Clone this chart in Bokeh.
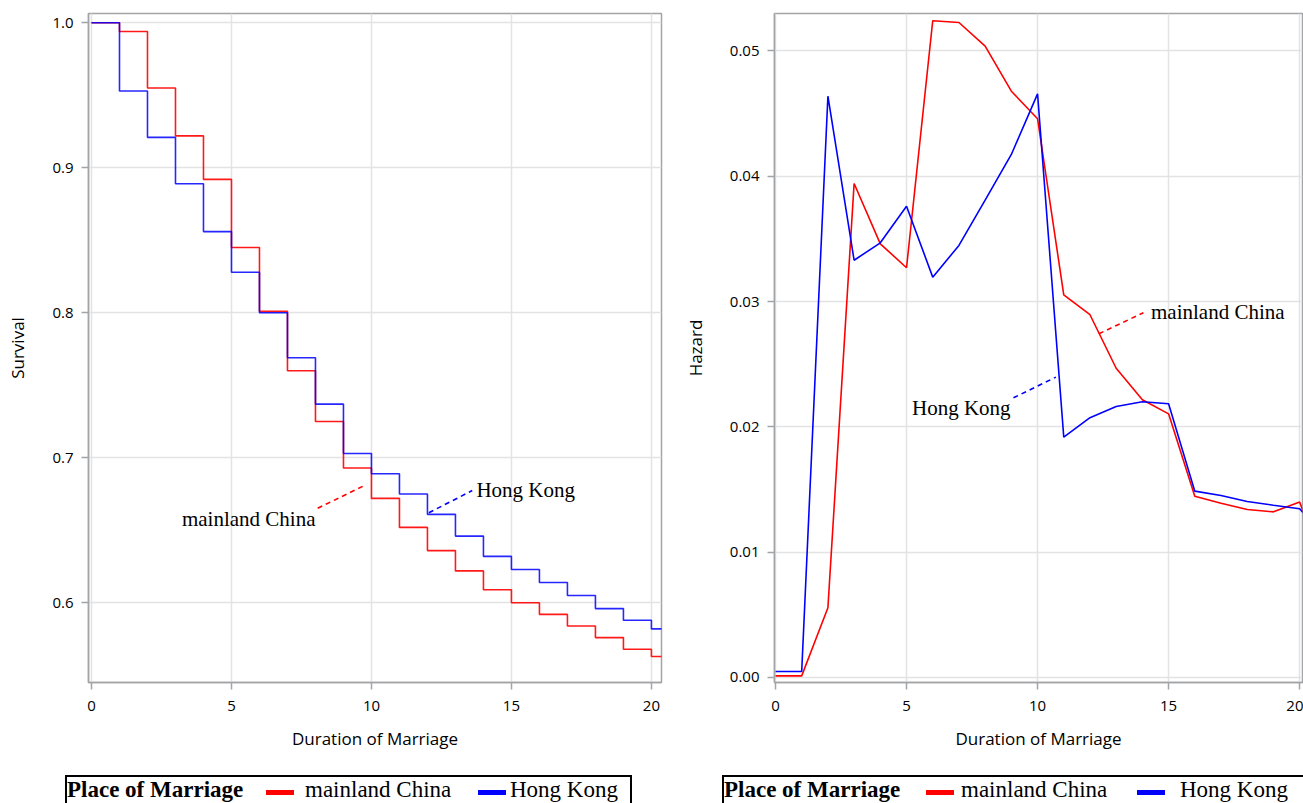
from bokeh.plotting import figure
from bokeh.layouts import row, column
from bokeh.models import Range1d, FixedTicker, NumeralTickFormatter, Div
from bokeh.core.properties import value
from bokeh.embed import file_html
from bokeh.resources import INLINE

# ---------------- data ----------------
years = list(range(21))
surv_mainland = [1.0, 0.994, 0.955, 0.922, 0.892, 0.845, 0.801, 0.760, 0.725, 0.693,
                 0.672, 0.652, 0.636, 0.622, 0.609, 0.600, 0.592, 0.584, 0.576, 0.568, 0.563]
surv_hongkong = [1.0, 0.953, 0.921, 0.889, 0.856, 0.828, 0.800, 0.769, 0.737, 0.703,
                 0.689, 0.675, 0.661, 0.646, 0.632, 0.623, 0.614, 0.605, 0.596, 0.588, 0.582]
followup_end = 20.4

haz_years = list(range(22))
haz_mainland = [0.00013, 0.00013, 0.00556, 0.03942, 0.03461, 0.03270, 0.05241, 0.05227,
                0.05038, 0.04679, 0.04459, 0.03054, 0.02895, 0.02468, 0.02216, 0.02104,
                0.01447, 0.01391, 0.01341, 0.01322, 0.01400, 0.00850]
haz_hongkong = [0.00048, 0.00048, 0.04639, 0.03330, 0.03469, 0.03761, 0.03195, 0.03448,
                0.03810, 0.04174, 0.04658, 0.01918, 0.02073, 0.02163, 0.02200, 0.02184,
                0.01487, 0.01452, 0.01405, 0.01375, 0.01346, 0.01120]

group_names = ["mainland China", "Hong Kong"]
legend_title = "Place of Marriage"
x_ticks = [0, 5, 10, 15, 20]
surv_ticks = [0.6, 0.7, 0.8, 0.9, 1.0]
haz_ticks = [0.0, 0.01, 0.02, 0.03, 0.04, 0.05]
x_label = "Duration of Marriage"

# annotation callouts: text anchor and dashed leader line (x0, y0, x1, y1)
surv_callouts = {
    "mainland China": dict(tx=8.0, ty=0.658, align="right", seg=(8.08, 0.6652, 9.70, 0.6804)),
    "Hong Kong": dict(tx=13.75, ty=0.6775, align="left", seg=(12.05, 0.6621, 13.6, 0.6774)),
}
haz_callouts = {
    "mainland China": dict(tx=14.33, ty=0.02913, align="left", seg=(12.34, 0.02743, 14.04, 0.02911)),
    "Hong Kong": dict(tx=8.97, ty=0.02152, align="right", seg=(9.08, 0.02232, 10.70, 0.02397)),
}

RED = "#ff0000"
BLUE = "#0000ff"
colors = {"mainland China": RED, "Hong Kong": BLUE}
FRAME_GRAY = "#a2a5a8"
GRID_GRAY = "#e3e3e3"
SANS = "Open Sans"
SERIF = "Liberation Serif"


def style(p, ylabel, yticks, yfmt):
    p.xaxis.ticker = FixedTicker(ticks=x_ticks)
    p.yaxis.ticker = FixedTicker(ticks=yticks)
    p.yaxis.formatter = NumeralTickFormatter(format=yfmt)
    p.xaxis.axis_label = x_label
    p.yaxis.axis_label = ylabel
    for ax in p.axis:
        ax.axis_line_color = FRAME_GRAY
        ax.axis_line_width = 1.5
        ax.major_tick_line_color = FRAME_GRAY
        ax.major_tick_line_width = 1.5
        ax.major_tick_in = 0
        ax.major_tick_out = 7
        ax.minor_tick_line_color = None
        ax.major_label_text_font = SANS
        ax.major_label_text_font_size = "15px"
        ax.major_label_text_color = "#000000"
        ax.axis_label_text_font = SANS
        ax.axis_label_text_font_size = "17px"
        ax.axis_label_text_font_style = "normal"
        ax.axis_label_text_color = "#000000"
    p.xaxis.major_label_standoff = 11
    p.xaxis.axis_label_standoff = 13
    p.yaxis.major_label_standoff = 8
    p.yaxis.axis_label_standoff = 20
    p.grid.grid_line_color = GRID_GRAY
    p.grid.grid_line_width = 1.5
    p.outline_line_color = FRAME_GRAY
    p.outline_line_width = 1.5
    p.background_fill_color = "white"
    p.border_fill_color = "white"


def callouts(p, spec):
    for name, c in spec.items():
        x0, y0, x1, y1 = c["seg"]
        p.line([x0, x1], [y0, y1], line_color=colors[name], line_width=1.6, line_dash="5 4")
        p.text(x=[c["tx"]], y=[c["ty"]], text=[name], text_font=value(SERIF),
               text_font_size="21px", text_align=c["align"], text_baseline="middle",
               text_color="#000000")


PLOT_H = 771
LEG_H = 32

# ---------------- survival plot ----------------
p1 = figure(width=680, height=PLOT_H, min_border_left=88, min_border_right=19,
            min_border_top=13, min_border_bottom=89,
            x_range=Range1d(-0.107, 20.36), y_range=Range1d(0.54503, 1.0064),
            toolbar_location=None, output_backend="svg", margin=0)
style(p1, "Survival", surv_ticks, "0.0")
p1.step(years + [followup_end], surv_mainland + [surv_mainland[-1]], mode="after",
        line_color=RED, line_width=1.6, line_alpha=0.9)
p1.step(years + [followup_end], surv_hongkong + [surv_hongkong[-1]], mode="after",
        line_color=BLUE, line_width=1.6, line_alpha=0.85)
callouts(p1, surv_callouts)

# ---------------- hazard plot ----------------
p2 = figure(width=623, height=PLOT_H, min_border_left=90, min_border_right=1,
            min_border_top=13, min_border_bottom=89,
            x_range=Range1d(-0.038, 20.11), y_range=Range1d(-0.0004, 0.05299),
            toolbar_location=None, output_backend="svg", margin=0)
style(p2, "Hazard", haz_ticks, "0.00")
p2.line(haz_years, haz_mainland, line_color=RED, line_width=1.6)
p2.line(haz_years, haz_hongkong, line_color=BLUE, line_width=1.6)
callouts(p2, haz_callouts)


# ---------------- legends (HTML boxes under each plot) ----------------
def legend_div(width, box_left, box_width, swatch_x, label_x):
    parts = [
        f'<span style="position:absolute;left:0px;top:1px;font-weight:bold;">{legend_title}</span>'
    ]
    for name, sx, lx in zip(group_names, swatch_x, label_x):
        parts.append(
            f'<span style="position:absolute;left:{sx}px;top:13px;width:28px;height:5px;'
            f'background:{colors[name]};"></span>'
        )
        parts.append(f'<span style="position:absolute;left:{lx}px;top:1px;">{name}</span>')
    html = (
        f'<div style="position:relative;width:{width}px;height:{LEG_H}px;overflow:hidden;margin:0;padding:0;">'
        f'<div style="position:absolute;left:{box_left}px;top:4px;width:{box_width}px;height:{LEG_H - 4}px;'
        f'box-sizing:border-box;border:2px solid #000;border-bottom:none;overflow:hidden;'
        f'font-family:\'{SERIF}\';font-size:23px;line-height:23px;color:#000;white-space:nowrap;">'
        + "".join(parts) + "</div></div>"
    )
    return Div(text=html, width=width, height=LEG_H, margin=0)


l1 = legend_div(680, 65, 567, [199, 411], [238, 443])
l2 = legend_div(623, 42, 584, [202, 413], [237, 456])

layout = row(column(p1, l1, spacing=0, margin=0), column(p2, l2, spacing=0, margin=0),
             spacing=0, margin=0)

with open("out.html", "w") as f:
    f.write(file_html(layout, INLINE))
